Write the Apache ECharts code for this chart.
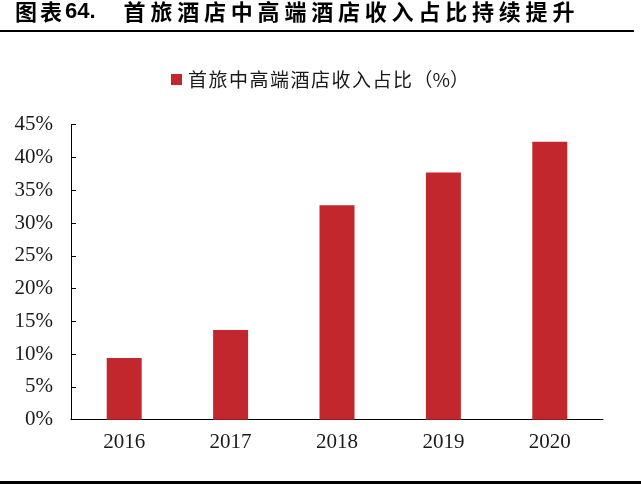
<!DOCTYPE html>
<html>
<head>
<meta charset="utf-8">
<script src="https://cdn.jsdelivr.net/npm/echarts@6/dist/echarts.min.js"></script>
<style>
html,body{margin:0;padding:0;background:#fff;}
#chart{width:641px;height:484px;}
</style>
</head>
<body>
<div id="chart"></div>
<script>
var titleText = '图表64. 首旅酒店中高端酒店收入占比持续提升';
var seriesName = '首旅中高端酒店收入占比（%）';
var categories = ['2016', '2017', '2018', '2019', '2020'];
var values = [9.4, 13.7, 32.7, 37.7, 42.4];
var yTicks = [0, 5, 10, 15, 20, 25, 30, 35, 40, 45];

function titleFormatter(s) {
  var out = '';
  for (var i = 0; i < s.length; i++) {
    var ch = s[i];
    if (/[0-9.]/.test(ch)) out += '{n|' + ch + '}';
    else if (ch === ' ') out += '{sp| }';
    else if (i < 2) out += '{a|' + ch + '}';
    else out += '{c|' + ch + '}';
  }
  return out;
}

function legendFormatter(s) {
  var out = '';
  for (var i = 0; i < s.length; i++) {
    var ch = s[i];
    if (/[\u4e00-\u9fff]/.test(ch)) out += '{c|' + ch + '}';
    else out += '{p|' + ch + '}';
  }
  return out;
}

var chart = echarts.init(document.getElementById('chart'), null, {renderer: 'canvas'});
chart.setOption({
  animation: false,
  backgroundColor: '#fff',
  title: {
    text: titleFormatter(titleText),
    left: 15,
    top: 1,
    padding: 0,
    textStyle: {
      rich: {
        a: {fontFamily: 'Noto Sans CJK SC', fontWeight: 'bold', fontSize: 22, width: 25, color: '#000'},
        c: {fontFamily: 'Noto Sans CJK SC', fontWeight: 'bold', fontSize: 22, width: 26.8, color: '#000'},
        n: {fontFamily: 'Liberation Sans', fontWeight: 'bold', fontSize: 22, color: '#000'},
        sp: {fontFamily: 'Liberation Sans', fontSize: 22, width: 28}
      }
    }
  },
  graphic: [
    {type: 'rect', shape: {x: 0, y: 30, width: 634, height: 2}, style: {fill: '#000'}},
    {type: 'rect', shape: {x: 0, y: 481, width: 641, height: 3}, style: {fill: '#000'}}
  ],
  legend: {
    data: [seriesName],
    left: 171,
    top: 70,
    padding: 0,
    icon: 'rect',
    itemWidth: 11,
    itemHeight: 11,
    formatter: legendFormatter,
    textStyle: {
      fontFamily: 'Noto Sans CJK SC', fontSize: 19, color: '#1a1a1a', padding: [0, 0, 0, 1],
      rich: {
        c: {fontFamily: 'Noto Sans CJK SC', fontSize: 19, color: '#1a1a1a', width: 20.5},
        p: {fontFamily: 'Noto Sans CJK SC', fontSize: 19, color: '#1a1a1a'}
      }
    }
  },
  grid: {left: 71, right: 38, top: 124.7, bottom: 64.3, containLabel: false},
  xAxis: {
    type: 'category',
    data: categories,
    axisLine: {lineStyle: {color: '#000', width: 1}},
    axisTick: {show: false},
    axisLabel: {fontFamily: 'Liberation Serif', fontSize: 21, color: '#1a1a1a', margin: 12}
  },
  yAxis: {
    type: 'value',
    min: yTicks[0],
    max: yTicks[yTicks.length - 1],
    interval: 5,
    axisLine: {show: true, lineStyle: {color: '#000', width: 1}},
    axisTick: {show: true, inside: true, length: 5, lineStyle: {color: '#000'}},
    splitLine: {show: false},
    axisLabel: {fontFamily: 'Liberation Serif', fontSize: 21, color: '#1a1a1a', margin: 18, formatter: '{value}%'}
  },
  series: [{
    name: seriesName,
    type: 'bar',
    data: values,
    barWidth: 35,
    itemStyle: {color: '#C1272D'}
  }]
});
</script>
</body>
</html>
